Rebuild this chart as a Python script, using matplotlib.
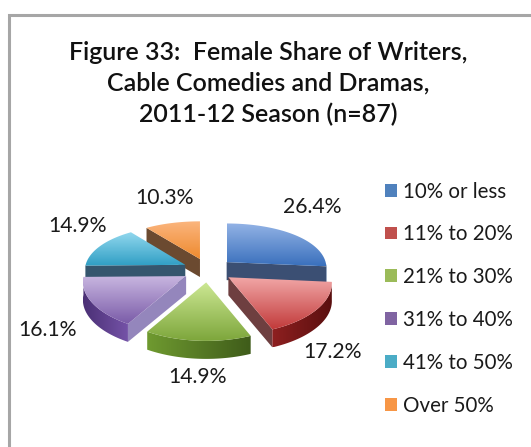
import numpy as np
import matplotlib
matplotlib.use('Agg')
import matplotlib.pyplot as plt
from matplotlib.colors import to_rgb
from matplotlib.patches import Patch, Polygon

categories = ['10% or less', '11% to 20%', '21% to 30%', '31% to 40%', '41% to 50%', 'Over 50%']
shares = [26.4, 17.2, 14.9, 16.1, 14.9, 10.3]
label_text = ['26.4%', '17.2%', '14.9%', '16.1%', '14.9%', '10.3%']
title = 'Figure 33:  Female Share of Writers,\nCable Comedies and Dramas,\n2011-12 Season (n=87)'

# top light, top dark, wall light, wall dark, cut face
colors = [
    ('#93B3E6', '#3A70BC', '#3F6FA8', '#2E4E7C', '#3B4F73'),
    ('#F2A9A9', '#C23B3B', '#8E2020', '#5A0F0F', '#6E3F40'),
    ('#CDE894', '#7DA63B', '#6F9A30', '#3F5C1A', '#55702C'),
    ('#C8B6E0', '#7A5BA8', '#7553A8', '#4B3075', '#9486BC'),
    ('#93D8EE', '#2E9EC4', '#35708E', '#2B5470', '#35566E'),
    ('#FBB57E', '#EE8A2E', '#B06A2E', '#8A5226', '#6B4A30'),
]
legend_colors = ['#4F81BD', '#C0504D', '#9BBB59', '#8064A2', '#4BACC6', '#F79646']

# painter order, back slices first
draw_order = [5, 0, 4, 3, 1, 2]

label_pos = [(312, 207), (333, 352), (198, 377), (48, 330), (78, 226), (165, 198)]

cx, cy = 208, 270
rx = 101
depth = 18
explode = 0.25


def warp(ox, oy, dx, dy):
    # fake perspective, front of the pie is bigger than the back
    # dx is scaled around the slice apex so radial edges stay upright
    y = oy + np.asarray(dy)
    return cx + rx * (ox + np.asarray(dx) * (1 - 0.12 * y)), cy - (48 * y - 7 * y ** 2)


def shade(ax, pts, c1, c2, horizontal=False, z=1):
    pts = np.asarray(pts)
    t = np.linspace(0, 1, 128)[:, None]
    grad = (1 - t) * np.array(to_rgb(c1)) + t * np.array(to_rgb(c2))
    grad = grad[None, :, :] if horizontal else grad[:, None, :]
    im = ax.imshow(grad, extent=(pts[:, 0].min(), pts[:, 0].max(), pts[:, 1].max(), pts[:, 1].min()),
                   origin='upper', aspect='auto', zorder=z, interpolation='bilinear')
    clip = Polygon(pts, closed=True, transform=ax.transData)
    im.set_clip_path(clip)


fig = plt.figure(figsize=(5.31, 4.47), dpi=100)
ax = fig.add_axes([0, 0, 1, 1])
plt.rcParams['font.family'] = ['Lato', 'DejaVu Sans']

# frame, only top and left edges are in the picture
ax.plot([531, 8.5, 8.5], [15, 15, 447], color='#A6A6A6', lw=2.2, zorder=0, solid_joinstyle='miter')

edges = 90 - np.concatenate([[0], np.cumsum(shares)]) / np.sum(shares) * 360
z = 2
for i in draw_order:
    a1, a2 = edges[i + 1], edges[i]
    mid = np.radians((a1 + a2) / 2)
    ox, oy = explode * np.cos(mid), explode * np.sin(mid)
    ang = np.radians(np.linspace(a1, a2, 80))
    c = colors[i]

    ax0, ay0 = warp(ox, oy, 0, 0)
    arc_x, arc_y = warp(ox, oy, np.cos(ang), np.sin(ang))
    arc = np.column_stack([arc_x, arc_y])
    top = np.vstack([[ax0, ay0], arc])

    # cut faces, only the ones turned to the viewer
    for a, normal in ((ang[0], ang[0] - np.pi / 2), (ang[-1], ang[-1] + np.pi / 2)):
        if np.sin(normal) < 0:
            ex, ey = warp(ox, oy, np.cos(a), np.sin(a))
            face = [(ax0, ay0), (ex, ey), (ex, ey + depth), (ax0, ay0 + depth)]
            ax.add_patch(Polygon(face, closed=True, fc=c[4], ec='none', zorder=z))
            z += 1

    # outer wall
    front = np.sin(ang) < 0
    if front.sum() > 1:
        wall = np.vstack([arc[front], arc[front][::-1] + [0, depth]])
        if i in (0, 1, 2):
            shade(ax, wall, c[2], c[3], horizontal=True, z=z)
        else:
            shade(ax, wall, c[3], c[2], horizontal=True, z=z)
        z += 1

    shade(ax, top, c[0], c[1], z=z)
    z += 1

for txt, (x, y) in zip(label_text, label_pos):
    ax.text(x, y, txt, fontsize=15.2, color='#1A1A1A', ha='center', va='center', zorder=50)

ax.text(268, 83.5, title, fontsize=18, fontweight='semibold', color='#111111', ha='center', va='center',
        linespacing=1.4, zorder=50)

handles = [Patch(fc=col, ec='none', label=cat) for col, cat in zip(legend_colors, categories)]
ax.legend(handles=handles, loc='upper left', bbox_to_anchor=(385, 181.5), bbox_transform=ax.transData,
          frameon=False, fontsize=14.8, labelspacing=1.11, handlelength=0.58, handleheight=0.58,
          handletextpad=0.29, labelcolor='#1A1A1A', borderpad=0, borderaxespad=0)

ax.set_xlim(0, 531)
ax.set_ylim(447, 0)
ax.axis('off')
fig.savefig('out.png', dpi=100)
